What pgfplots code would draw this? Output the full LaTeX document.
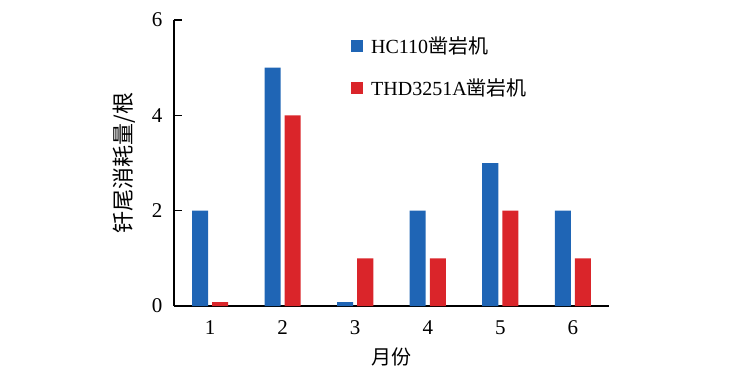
\documentclass[border=0pt]{standalone}
\usepackage{fontspec}
\setmainfont{Liberation Serif}
\newfontfamily\cjk{Noto Sans CJK SC}
\usepackage{pgfplots}
\pgfplotsset{compat=1.18}
\definecolor{cblue}{RGB}{31,101,181}
\definecolor{cred}{RGB}{218,37,42}
\begin{document}
\begin{tikzpicture}
\useasboundingbox (-174pt,-72pt) rectangle (559pt,306pt);
\begin{axis}[
  at={(0pt,0pt)}, anchor=south west,
  width=435pt, height=286pt, scale only axis,
  xmin=0.5, xmax=6.5, ymin=0, ymax=6,
  axis x line=bottom, axis y line=left,
  axis line style={-, line width=1.2pt},
  xtick={1,2,3,4,5,6}, ytick={0,2,4,6},
  x tick style={draw=none},
  y tick style={line width=1.2pt, black},
  major tick length=8pt, tick align=inside,
  ybar, bar width=16pt, ybar=4pt,
  ticklabel style={font=\fontsize{21}{21}\selectfont},
  yticklabel style={xshift=-8pt},
  xticklabel style={yshift=-3pt},
  /pgf/number format/assume math mode=true,
  xlabel={\cjk 月份}, xlabel style={font=\fontsize{20}{20}\selectfont, yshift=-6pt},
  ylabel={\cjk 钎尾消耗量/根}, ylabel style={font=\fontsize{22}{22}\selectfont, yshift=10pt},
  legend style={draw=none, fill=none, at={(axis description cs:0.40,0.955)}, anchor=north west,
    font=\fontsize{20}{20}\selectfont, row sep=19pt, legend cell align=left},
]
\addplot[fill=cblue, draw=none, legend image code/.code={\fill[cblue] (0pt,-6pt) rectangle (12pt,6pt);}] coordinates {(1,2) (2,5) (3,0.08) (4,2) (5,3) (6,2)};
\addlegendentry{\hspace{6pt}HC110{\cjk 凿岩机}}
\addplot[fill=cred, draw=none, legend image code/.code={\fill[cred] (0pt,-6pt) rectangle (12pt,6pt);}] coordinates {(1,0.08) (2,4) (3,1) (4,1) (5,2) (6,1)};
\addlegendentry{\hspace{6pt}THD3251A{\cjk 凿岩机}}
\end{axis}
\end{tikzpicture}
\end{document}
